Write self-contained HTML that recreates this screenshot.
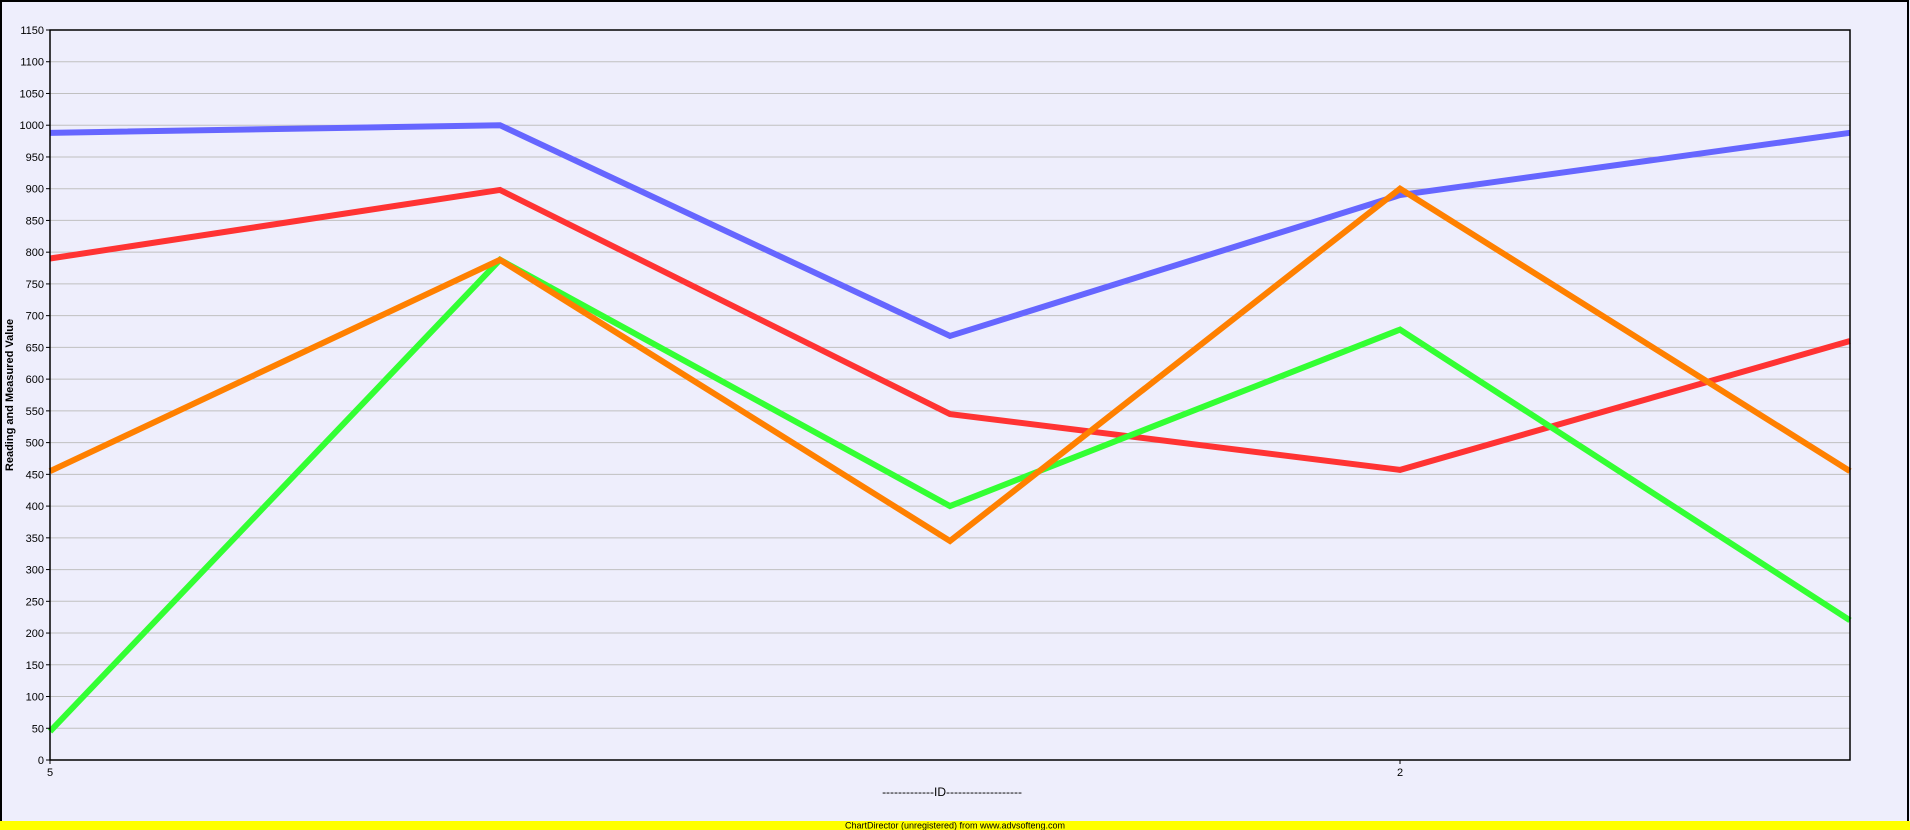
<!DOCTYPE html>
<html><head><meta charset="utf-8"><style>
html,body{margin:0;padding:0;background:#eeeefc;}
svg{display:block;font-family:"Liberation Sans",Arial,sans-serif;}
</style></head><body>
<svg id="chart" width="1910" height="830" viewBox="0 0 1910 830">
<rect x="0" y="0" width="1910" height="830" fill="#eeeefc"/>
<rect x="1" y="1" width="1907" height="828" fill="none" stroke="#000" stroke-width="2"/>
<rect x="0" y="821" width="1910" height="9" fill="#ffff00"/>
<text x="955" y="828.5" font-size="9" text-anchor="middle">ChartDirector (unregistered) from www.advsofteng.com</text>
<g id="grid"></g>
<g id="lines"></g>
<g id="axes"></g>
<text x="952" y="796" font-size="12" text-anchor="middle">-------------ID-------------------</text>
<text transform="translate(13,395) rotate(-90)" font-size="11" font-weight="bold" text-anchor="middle">Reading and Measured Value</text>
</svg>
<script>
const categories = ["5", "", "", "2", ""];
const blueSeries = [988, 1000, 668, 890, 988];
const redSeries = [790, 898, 545, 457, 660];
const greenSeries = [45, 788, 400, 678, 220];
const orangeSeries = [455, 788, 345, 900, 455];
const yTicks = [0,50,100,150,200,250,300,350,400,450,500,550,600,650,700,750,800,850,900,950,1000,1050,1100,1150];

const NS = "http://www.w3.org/2000/svg";
const L = 50, R = 1850, T = 30, B = 760, YMAX = 1150;
const xs = i => L + i * (R - L) / (categories.length - 1);
const ys = v => B - v / YMAX * (B - T);
function mk(tag, attrs, parent) {
  const e = document.createElementNS(NS, tag);
  for (const k in attrs) e.setAttribute(k, attrs[k]);
  parent.appendChild(e);
  return e;
}
const grid = document.getElementById("grid");
const axes = document.getElementById("axes");
const lines = document.getElementById("lines");
const plotBg = mk("rect", {x: L, y: T, width: R - L, height: B - T, fill: "#eeeefc"}, grid);


yTicks.forEach(v => {
  const y = ys(v);
  if (v > 0) {
    const g = mk("line", {x1: L, x2: R, y1: y, y2: y, stroke: "#c0c0c0", "stroke-width": 1}, grid);
    
    
  }
  const t = mk("line", {x1: L - 4, x2: L, y1: y, y2: y, stroke: "#000"}, axes);
  
  
  const lb = mk("text", {x: L - 6, y: y + 4, "font-size": 11, "text-anchor": "end"}, axes);
  lb.textContent = v;
  
  
});
const frame = mk("rect", {x: L, y: T, width: R - L, height: B - T, fill: "none", stroke: "#000", "stroke-width": 1.5}, axes);


categories.forEach((c, i) => {
  const x = xs(i);
  if (c !== "") {
    const t = mk("line", {x1: x, x2: x, y1: B, y2: B + 4, stroke: "#000"}, axes);
    
    
    const lb = mk("text", {x: x, y: B + 16, "font-size": 11, "text-anchor": "middle"}, axes);
    lb.textContent = c;
    
    
  }
});
const series = [
  [blueSeries, "#6666ff", "series-blue"],
  [redSeries, "#ff3333", "series-red"],
  [greenSeries, "#33ff33", "series-green"],
  [orangeSeries, "#ff8000", "series-orange"]
];
series.forEach(([vals, col, name]) => {
  const pts = vals.map((v, i) => xs(i) + "," + ys(v)).join(" ");
  const p = mk("polyline", {points: pts, fill: "none", stroke: col, "stroke-width": 6, "stroke-linejoin": "miter"}, lines);
  
  
});
</script>
</body></html>
